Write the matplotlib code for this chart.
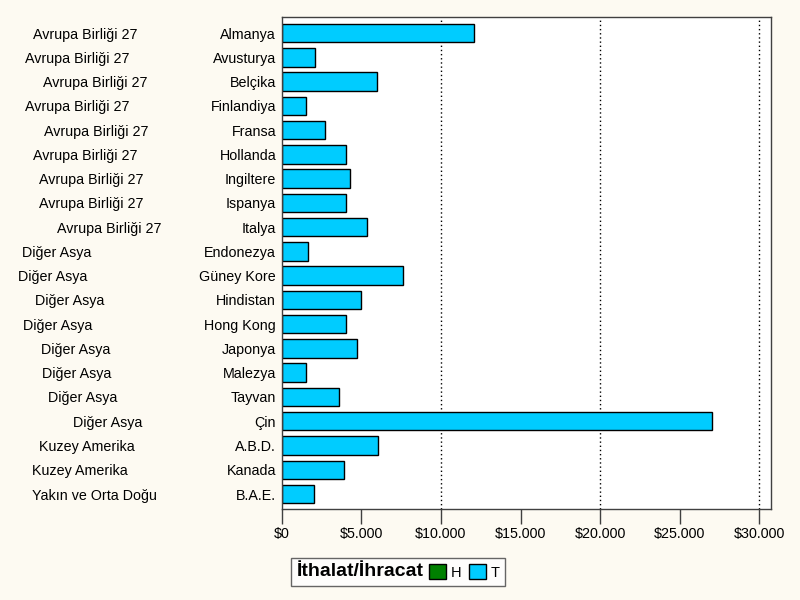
import matplotlib
matplotlib.use("Agg")
import matplotlib.pyplot as plt
from matplotlib.patches import Patch
from matplotlib.ticker import FuncFormatter
from matplotlib.offsetbox import HPacker

plt.rcParams['font.family'] = ['Liberation Sans', 'DejaVu Sans']

# data (thousand $)
countries = ["Almanya", "Avusturya", "Belçika", "Finlandiya", "Fransa", "Hollanda",
             "Ingiltere", "Ispanya", "Italya", "Endonezya", "Güney Kore", "Hindistan",
             "Hong Kong", "Japonya", "Malezya", "Tayvan", "Çin", "A.B.D.", "Kanada",
             "B.A.E."]
regions = ["Avrupa Birliği 27"] * 9 + ["Diğer Asya"] * 8 + ["Kuzey Amerika"] * 2 + \
          ["Yakın ve Orta Doğu"]
values = [12080, 2090, 5990, 1530, 2720, 4040, 4290, 4040, 5360, 1650, 7620, 4980,
          4040, 4730, 1530, 3620, 27050, 6070, 3930, 2050]
# horizontal centre (pixels) of each region label, as drawn in the original
region_x = [85, 77, 95, 77, 96, 85, 91, 91, 109, 57, 53, 70, 58, 76, 77, 83, 108,
            87, 80, 94]

bg = "#fdfaf2"
bar_color = "#00ccff"

fig = plt.figure(figsize=(8, 6), dpi=100, facecolor=bg)
ax = fig.add_axes([281.7 / 800, 1 - 509.3 / 600, 489.6 / 800, 492 / 600])
ax.set_facecolor("white")

ypos = list(range(len(countries)))
ax.barh(ypos, values, height=0.76, color=bar_color, edgecolor="black", linewidth=1)
ax.set_ylim(len(countries) - 0.37, -0.65)
ax.set_xlim(0, 30750)

ax.set_yticks(ypos)
ax.set_yticklabels(countries, fontsize=10.3)
ax.tick_params(axis="y", length=0, pad=4)
ax.set_xticks(range(0, 30001, 5000))
ax.xaxis.set_major_formatter(FuncFormatter(lambda v, p: "$" + f"{int(v):,}".replace(",", ".")))
ax.tick_params(axis="x", length=11, width=1, color="#404040", labelsize=10.3, pad=2)

for g in [10000, 20000, 30000]:
    ax.axvline(g, color="black", linestyle=(0, (1, 2)), linewidth=1, zorder=0)

for s in ax.spines.values():
    s.set_color("#404040")
    s.set_linewidth(1)

# region labels on the left
for i, (r, xc) in enumerate(zip(regions, region_x)):
    yd = ax.transData.transform((0, i))[1]
    fig.text(xc / 800, yd / 600, r, ha="center", va="center_baseline", fontsize=10.3)

handles = [Patch(facecolor="#008000", edgecolor="black", label="H"),
           Patch(facecolor=bar_color, edgecolor="black", label="T")]
leg = fig.legend(handles=handles, loc="center", bbox_to_anchor=(398 / 800, 1 - 572 / 600),
                 ncol=2, title="İthalat/İhracat", fontsize=10.5, frameon=True,
                 handlelength=1.2, handleheight=1.2, handletextpad=0.3, columnspacing=0.5,
                 borderpad=0.4, fancybox=False)
leg.get_title().set_fontweight("bold")
leg.get_title().set_fontsize(14)
leg.get_frame().set_edgecolor("#404040")
leg.get_frame().set_facecolor("white")
leg.get_frame().set_linewidth(1)
# put title on the same line as the entries
box = leg._legend_box
box.__class__ = HPacker
box.sep = 4
box.align = "center"

fig.savefig("out.png", dpi=100, facecolor=bg)
